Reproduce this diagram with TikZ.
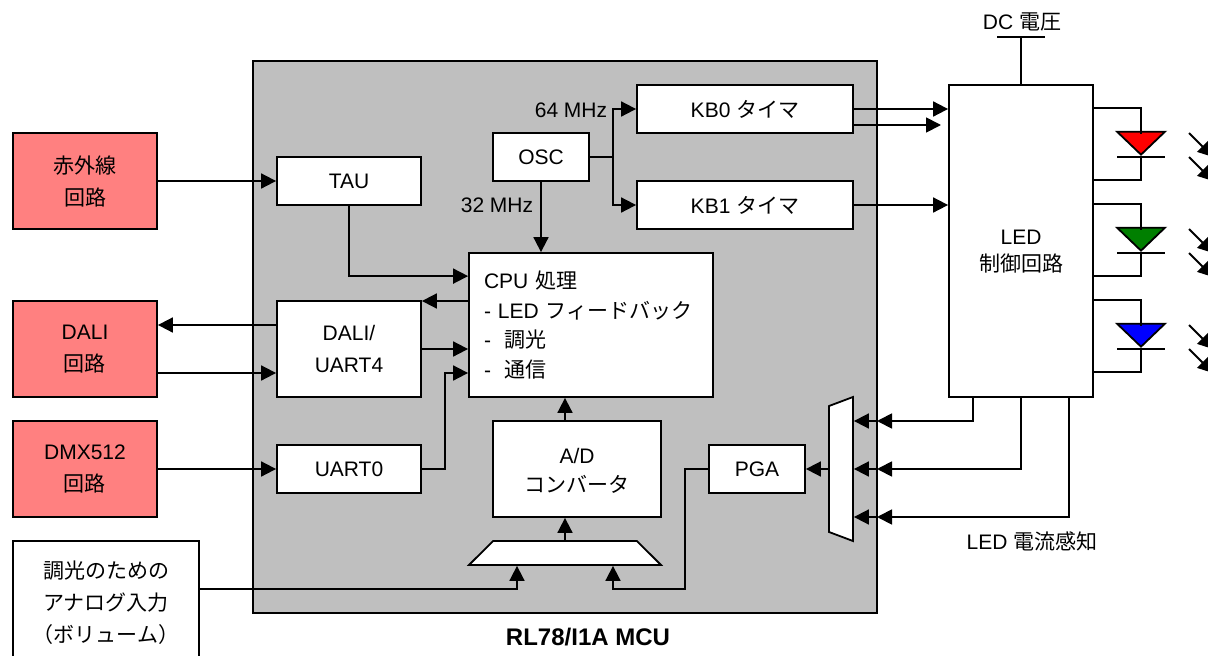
\documentclass[tikz,border=0pt]{standalone}
\usepackage{fontspec}
\usepackage{xcolor}
\setmainfont{Liberation Sans}
\newfontfamily\jpfont{Noto Sans CJK JP}
\newcommand{\jp}[1]{{\jpfont #1}}
\usetikzlibrary{
  arrows.meta,
  shapes.geometric}
\definecolor{mcugray}{HTML}{BFBFBF}
\definecolor{extpink}{HTML}{FF8080}
\definecolor{ledgreen}{HTML}{007F00}
\tikzset{every picture/.style={font issue=\fontsize{21}{32}},
         font issue/.style={execute at begin picture={#1\selectfont}},
         block/.style={draw, fill=white, inner sep=0pt, align=center},
         extblock/.style={block, fill=extpink, minimum width=144pt, minimum height=96pt},
         widebox/.style={block, minimum width=144pt, minimum height=48pt},
         smallbox/.style={block, minimum width=96pt, minimum height=48pt},
         selector/.style={draw, fill=white, trapezium, trapezium stretches, inner sep=1pt},
         twolines/.style={align=center, font=\fontsize{21}{#1}\selectfont},
         diode/.style={draw, isosceles triangle, isosceles triangle stretches, shape border rotate=-90,
                       minimum width=48pt, minimum height=23pt, inner sep=1pt, anchor=apex}
        }
\begin{document}
\begin{tikzpicture}[x=1pt, y=-1pt, line width=1.8pt, >={Triangle[length=15pt,width=15pt]}]
\useasboundingbox (0,0) rectangle (1208,656);
\node[draw, fill=mcugray, minimum width=624pt, minimum height=552pt] at (565,337)(mcu){};
\node[font=\fontsize{24}{28}\selectfont] at (588,637)(mcuname){\textbf{RL78/I1A MCU}};

\node[extblock] at (85,181)(ir){\jp{赤外線}\\\jp{回路}};
\node[extblock] at (85,349)(dalic){DALI\\\jp{回路}};
\node[extblock] at (85,469)(dmx){DMX512\\\jp{回路}};
\node[block, minimum width=186pt, minimum height=124pt] at (106,603)(vol){\jp{調光のための}\\\jp{アナログ入力}\\\jp{（ボリューム）}};

\node[widebox] at (349,181)(tau){TAU};
\node[widebox, minimum height=96pt] at (349,349)(dali){DALI/\\UART4};
\node[widebox] at (349,469)(uart){UART0};
\node[smallbox] at (541,157)(osc){OSC};
\node[block, minimum width=216pt, minimum height=48pt] at (745,109)(kbzero){KB0 \jp{タイマ}};
\node[block, minimum width=216pt, minimum height=48pt] at (745,205)(kbone){KB1 \jp{タイマ}};
\node[block, minimum width=244pt, minimum height=144pt, text width=214pt, align=left, font=\fontsize{21}{29.7}\selectfont] at (591,325)(cpu){CPU \jp{処理}\\- LED \jp{フィードバック}\\-~~\jp{調光}\\-~~\jp{通信}};
\node[block, minimum width=168pt, minimum height=96pt] at (577,469)(adc){};
\node[twolines=29] at (577,471)(adcname){A/D\\\jp{コンバータ}};
\node[smallbox] at (757,469)(pga){PGA};
\node[selector, trapezium angle=80.5, minimum width=192pt, minimum height=24pt] at (565,553)(adcmux){};
\node[selector, trapezium angle=85.9, minimum width=144pt, minimum height=24pt, rotate=90] at (841,469)(pgamux){};
\node[block, minimum width=144pt, minimum height=312pt] at (1021,241)(led){};
\node[twolines=27] at (1021,252)(ledname){LED\\\jp{制御回路}};

\node at (571,110)(fast){64 MHz};
\node at (497,205)(slow){32 MHz};
\node at (1022,22)(dcv){DC \jp{電圧}};
\node at (1032,541)(sense){LED \jp{電流感知}};

\node[diode, fill=red] at (1141,157)(ledr){};
\node[diode, fill=ledgreen] at (1141,253)(ledg){};
\node[diode, fill=blue] at (1141,349)(ledb){};

\coordinate (fork) at (613,157);
\coordinate (kbend) at (941,125);
\coordinate (dcbar) at (1021,37);
\coordinate (edgea) at (877,421);
\coordinate (edgeb) at (877,469);
\coordinate (edgec) at (877,517);
\coordinate (volbend) at (517,589);
\coordinate (pgabend) at (685,589);
\coordinate (pgain) at (613,589);

\draw[->](ir.east) -- (tau.west);
\draw[->]([yshift=24pt]dali.west) -- ([yshift=24pt]dalic.east);
\draw[->]([yshift=-24pt]dalic.east) -- ([yshift=-24pt]dali.west);
\draw[->](dmx.east) -- (uart.west);
\draw[->]([yshift=14pt]vol.east) -- (volbend) -- (volbend |- adcmux.south);
\draw[->](tau.south) |- ([yshift=-24pt]cpu.north west);
\draw[->]([yshift=24pt]cpu.west) -- ([yshift=24pt]cpu.west -| dali.east);
\draw[->](dali.east) -- (dali.east -| cpu.west);
\draw[->](uart.east) -- (445,469) |- ([yshift=-48pt]cpu.west);
\draw[->](osc.south) -- (osc.south |- cpu.north);
\draw(osc.east) -- (fork);
\draw[->](fork) |- (kbzero.west);
\draw[->](fork) |- (kbone.west);
\draw[->](kbzero.east) -- (kbzero.east -| led.west);
\draw[->]([yshift=-16pt]kbzero.east) -- (kbend);
\draw[->](kbone.east) -- (kbone.east -| led.west);
\draw[->]([xshift=-12pt]adc.north) -- ([xshift=-12pt]adc.north |- cpu.south);
\draw[->](adcmux.north) -- ([xshift=-12pt]adc.south);
\draw[->](pga.west) -| (pgabend) -- (pgain) -- (pgain |- adcmux.south);
\draw[->](pgamux.north) -- (pga.east);
\draw(dcbar) -- (led.north);
\draw([xshift=-24pt]dcbar) -- ([xshift=24pt]dcbar);
\draw[->]([xshift=-48pt]led.south) |- (edgea);
\draw[->](led.south) |- (edgeb);
\draw[->]([xshift=48pt]led.south) |- (edgec);
\draw[->](edgea) -- (edgea -| pgamux.south);
\draw[->](edgeb) -- (edgeb -| pgamux.south);
\draw[->](edgec) -- (edgec -| pgamux.south);

\draw([yshift=-24pt]led.north east) -| ([yshift=23pt]ledr.apex);
\draw(ledr.apex) |- ([yshift=-96pt]led.north east);
\draw([xshift=-24pt]ledr.apex) -- ([xshift=24pt]ledr.apex);
\draw([yshift=-120pt]led.north east) -| ([yshift=23pt]ledg.apex);
\draw(ledg.apex) |- ([yshift=-192pt]led.north east);
\draw([xshift=-24pt]ledg.apex) -- ([xshift=24pt]ledg.apex);
\draw([yshift=-216pt]led.north east) -| ([yshift=23pt]ledb.apex);
\draw(ledb.apex) |- ([yshift=-288pt]led.north east);
\draw([xshift=-24pt]ledb.apex) -- ([xshift=24pt]ledb.apex);

\draw[->](1189,133) -- (1213,157);
\draw[->](1189,157) -- (1213,181);
\draw[->](1189,229) -- (1213,253);
\draw[->](1189,253) -- (1213,277);
\draw[->](1189,325) -- (1213,349);
\draw[->](1189,349) -- (1213,373);
\end{tikzpicture}
\end{document}
